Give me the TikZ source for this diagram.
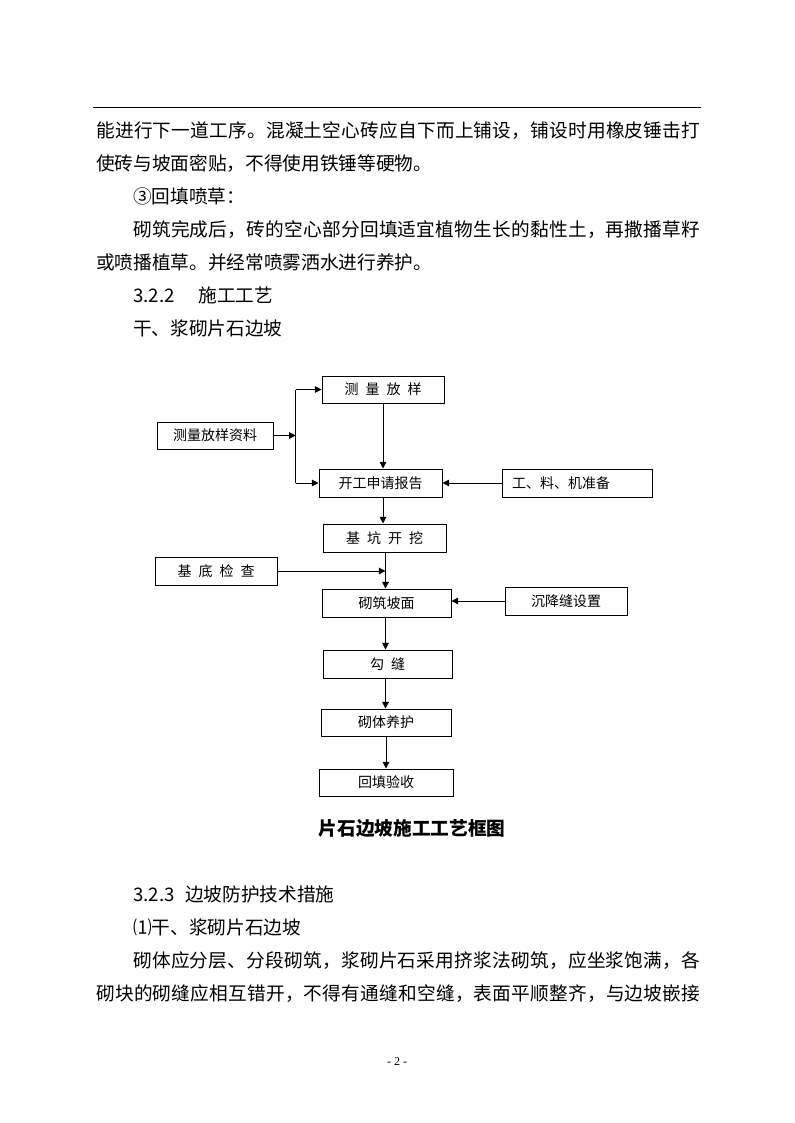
\documentclass[tikz,border=0pt]{standalone}
\usepackage{fontspec}
\setmainfont{Noto Sans CJK SC}
\newfontfamily\pgfont{Liberation Serif}
\usetikzlibrary{arrows.meta}
% inter-character glue for CJK so that full lines can be justified
\XeTeXinterchartokenstate=1
\newXeTeXintercharclass\mycjk
\newcount\mycnt
\def\setcls#1#2{\mycnt=#1\relax\loop\XeTeXcharclass\mycnt=\mycjk\relax\ifnum\mycnt<#2\relax\advance\mycnt by 1\relax\repeat}
\setcls{"3000}{"303F}
\setcls{"4E00}{"9FFF}
\setcls{"FF00}{"FFEF}
\XeTeXinterchartoks\mycjk\mycjk={\hskip0pt plus 1pt\relax}
\newcommand\gp{\hspace{0.5em}}
\newcommand\bodyfont{\fontsize{14pt}{16pt}\selectfont}
\newcommand\boxfont{\fontsize{10.5pt}{12pt}\selectfont}
\tikzset{
  box/.style={draw, line width=0.75pt, inner sep=0pt, font=\boxfont},
  arr/.style={-{Triangle[length=5pt,width=5pt]}, line width=0.75pt},
  ln/.style={line width=0.75pt},
  body/.style={anchor=base west, inner sep=0pt, font=\bodyfont},
}
\newcommand\bx[6]{\node[box,minimum width={(#4-#2)*0.75pt},minimum height={(#5-#3)*0.75pt}] (#1) at ({(#2+#4)/2},{(#3+#5)/2}) {#6};}
\begin{document}
\begin{tikzpicture}[x=0.75pt,y=-0.75pt]
\useasboundingbox[fill=white] (0,0) rectangle (794,1123);
% header rule
\draw[ln] (93,108) -- (701,108);
% body text (top)
\node[body] (l1) at (96,137.7) {\makebox[453pt][s]{能进行下一道工序。混凝土空心砖应自下而上铺设，铺设时用橡皮锤击打}};
\node[body] (l2) at (96,170.7) {使砖与坡面密贴，不得使用铁锤等硬物。};
\node[body] (l3) at (133,203.7) {③回填喷草：};
\node[body] (l4) at (133,236.7) {\makebox[425.25pt][s]{砌筑完成后，砖的空心部分回填适宜植物生长的黏性土，再撒播草籽}};
\node[body] (l5) at (96,269.7) {或喷播植草。并经常喷雾洒水进行养护。};
\node[body] (l6) at (133,302.7) {\makebox[35pt][l]{3.2.2}\hspace{14pt}施工工艺};
\node[body] (l7) at (133,335.7) {干、浆砌片石边坡};
% flowchart boxes
\bx{b1}{322}{376}{444}{403}{测{\gp}量{\gp}放{\gp}样}
\bx{b0}{157}{422}{273}{449}{测量放样资料}
\bx{b2}{319}{469}{442}{497}{开工申请报告}
\bx{br}{502}{469}{652}{497}{\makebox[97.5pt][l]{工、料、机准备}}
\bx{b3}{323}{524}{446}{552}{基{\gp}坑{\gp}开{\gp}挖}
\bx{bl}{155}{557}{277}{585}{基{\gp}底{\gp}检{\gp}查}
\bx{b4}{322}{589}{451}{617}{砌筑坡面}
\bx{bs}{505}{587}{627}{615}{沉降缝设置}
\bx{b5}{323}{650}{452}{678}{勾{\gp}缝}
\bx{b6}{321}{709}{451}{736}{砌体养护}
\bx{b7}{319}{769}{453}{796}{回填验收}
% trunk and junction coordinates
\coordinate (ta) at (383,0);
\coordinate (tb) at (385.5,0);
\coordinate (j) at (295.7,0);
% connectors
\draw[arr] (b0.east) -- (b0.east -| j);
\draw[ln] (b1.west -| j) -- (b2.west -| j);
\draw[arr] (b1.west -| j) -- (b1.west);
\draw[arr] (b2.west -| j) -- (b2.west);
\draw[arr] (b1.south -| ta) -- (b2.north -| ta);
\draw[arr] (br.west) -- (b2.east);
\draw[arr] (b2.south -| ta) -- (b3.north -| ta);
\draw[arr] (b3.south -| tb) -- (b4.north -| tb);
\draw[arr] (bl.east) -- (bl.east -| tb);
\draw[arr] (bs.west) -- (bs.west -| b4.east);
\draw[arr] (b4.south -| tb) -- (b5.north -| tb);
\draw[arr] (b5.south -| tb) -- (b6.north -| tb);
\draw[arr] (b6.south -| b6) -- (b7.north -| b6);
% caption
\node[inner sep=0pt, font=\fontsize{14pt}{16pt}\selectfont\bfseries] (cap) at (412,828) {片石边坡施工工艺框图};
% body text (bottom)
\node[body] (m1) at (133,901.5) {\makebox[33pt][l]{3.2.3}\hspace{6pt}边坡防护技术措施};
\node[body] (m2) at (133,934.5) {⑴干、浆砌片石边坡};
\node[body] (m3) at (133,967.5) {\makebox[425.25pt][s]{砌体应分层、分段砌筑，浆砌片石采用挤浆法砌筑，应坐浆饱满，各}};
\node[body] (m4) at (96,1000.5) {\makebox[453pt][s]{砌块的砌缝应相互错开，不得有通缝和空缝，表面平顺整齐，与边坡嵌接}};
% page number
\node[inner sep=0pt, font=\pgfont\fontsize{9pt}{10pt}\selectfont] (pg) at (397,1062) {- 2 -};
\end{tikzpicture}
\end{document}
